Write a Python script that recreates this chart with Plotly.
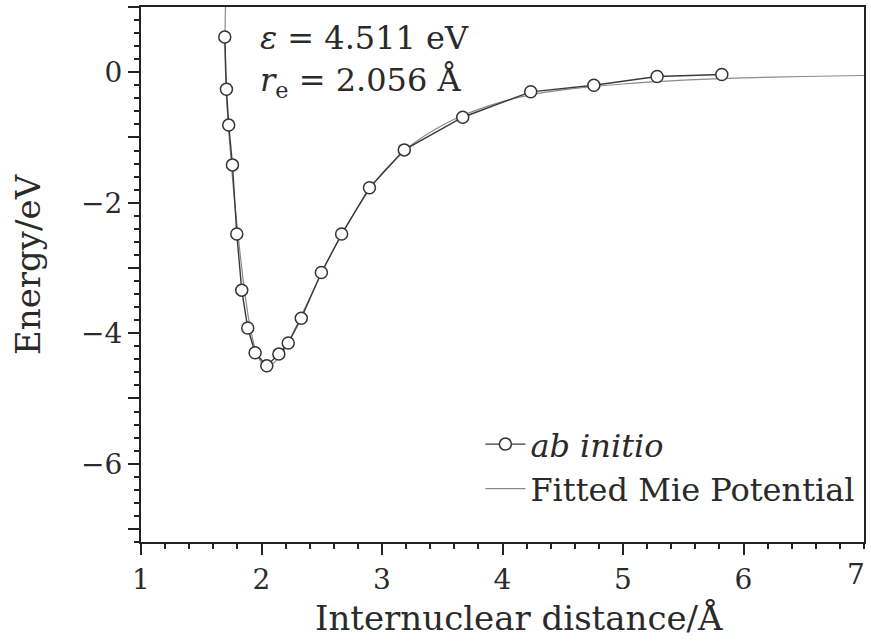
import plotly.graph_objects as go

# ab initio points
ab_r = [1.695, 1.709, 1.728, 1.759, 1.795, 1.836, 1.886, 1.947, 2.044, 2.144, 2.222, 2.330, 2.497, 2.665,
        2.896, 3.185, 3.670, 4.234, 4.758, 5.283, 5.820]
ab_e = [0.54, -0.26, -0.81, -1.42, -2.48, -3.34, -3.92, -4.30, -4.50, -4.32, -4.15, -3.77, -3.07, -2.48,
        -1.77, -1.19, -0.69, -0.30, -0.20, -0.065, -0.035]

# fitted Mie potential curve
fit_r = [1.702, 1.697, 1.707, 1.726, 1.745, 1.770, 1.800, 1.850, 1.900, 1.950, 2.000, 2.050, 2.100, 2.200,
         2.300, 2.400, 2.500, 2.600, 2.700, 2.800, 2.900, 3.000, 3.200, 3.400, 3.600, 3.800, 4.000, 4.250,
         4.500, 5.000, 5.500, 6.000, 6.500, 7.000]
fit_e = [1.10, 0.50, -0.30, -0.85, -1.30, -1.85, -2.40, -3.22, -3.85, -4.25, -4.45, -4.50, -4.46, -4.22,
         -3.85, -3.46, -3.07, -2.71, -2.38, -2.07, -1.79, -1.55, -1.18, -0.92, -0.72, -0.57, -0.45, -0.34,
         -0.27, -0.18, -0.12, -0.085, -0.065, -0.05]

x_ticks = [1, 2, 3, 4, 5, 6, 7]
x_labels = ["1", "2", "3", "4", "5", "6", "7"]
y_ticks = [1, 0, -1, -2, -3, -4, -5, -6, -7]
y_labels = ["", "0", "", "\u22122", "", "\u22124", "", "\u22126", ""]

FONT = "DejaVu Serif"
TXT = "#2a2a2a"
fig = go.Figure()

fig.add_trace(go.Scatter(
    x=fit_r, y=fit_e, mode="lines", name="Fitted Mie Potential",
    line=dict(color="#8a8a8a", width=1.2, shape="spline", smoothing=0.6),
    legendrank=2,
))
fig.add_trace(go.Scatter(
    x=ab_r, y=ab_e, mode="lines+markers", name="<i>ab initio</i>",
    line=dict(color="#3a3a3a", width=1.4),
    marker=dict(symbol="circle", size=12, color="white", line=dict(color="#333333", width=1.5)),
    legendrank=1,
))

axis_common = dict(
    showline=True, linecolor="#222222", linewidth=2, mirror=True,
    ticks="outside", ticklen=11, tickwidth=1.5, tickcolor="#222222",
    showgrid=False, zeroline=False,
    tickfont=dict(family=FONT, size=28, color=TXT),
)

fig.update_xaxes(
    range=[1, 7], tickvals=x_ticks[:-1], ticktext=x_labels[:-1],
    minor=dict(dtick=0.2, ticks="outside", ticklen=5, tickwidth=1.5, tickcolor="#222222", showgrid=False),
    **axis_common,
)
fig.update_yaxes(
    range=[-7.2, 1.0], tickvals=y_ticks, ticktext=y_labels,
    minor=dict(dtick=0.2, ticks="outside", ticklen=5, tickwidth=1.5, tickcolor="#222222", showgrid=False),
    **axis_common,
)

# last x tick label sits at the very edge of the figure
fig.add_annotation(x=x_ticks[-1], y=0, xref="x", yref="paper", yshift=-14, xshift=3, text=x_labels[-1],
                   showarrow=False, xanchor="right", yanchor="top", font=dict(family=FONT, size=28, color=TXT))

# axis titles
fig.add_annotation(x=0.523, y=-0.1415, xref="paper", yref="paper", text="Internuclear distance/Å",
                   showarrow=False, xanchor="center", yanchor="middle", font=dict(family=FONT, size=34, color=TXT))
fig.add_annotation(x=-0.156, y=0.52, xref="paper", yref="paper", text="Energy/eV", textangle=-90,
                   showarrow=False, xanchor="center", yanchor="middle", font=dict(family=FONT, size=34, color=TXT))

fig.add_annotation(x=1.969, y=0.52, xref="x", yref="y", text="<i>ε</i> = 4.511 eV", showarrow=False,
                   xanchor="left", yanchor="middle", font=dict(family=FONT, size=32, color=TXT))
fig.add_annotation(x=1.969, y=-0.15, xref="x", yref="y", text="<i>r</i><sub>e</sub> = 2.056 Å", showarrow=False,
                   xanchor="left", yanchor="middle", font=dict(family=FONT, size=32, color=TXT))

fig.update_layout(
    width=871, height=643,
    margin=dict(l=141, r=5, t=5, b=101),
    paper_bgcolor="white", plot_bgcolor="white",
    showlegend=True,
    legend=dict(x=0.995, y=0.234, xanchor="right", yanchor="top", bgcolor="rgba(0,0,0,0)",
                font=dict(family=FONT, size=32, color=TXT), itemwidth=40, tracegroupgap=0),
)

fig.write_html("out.html")
